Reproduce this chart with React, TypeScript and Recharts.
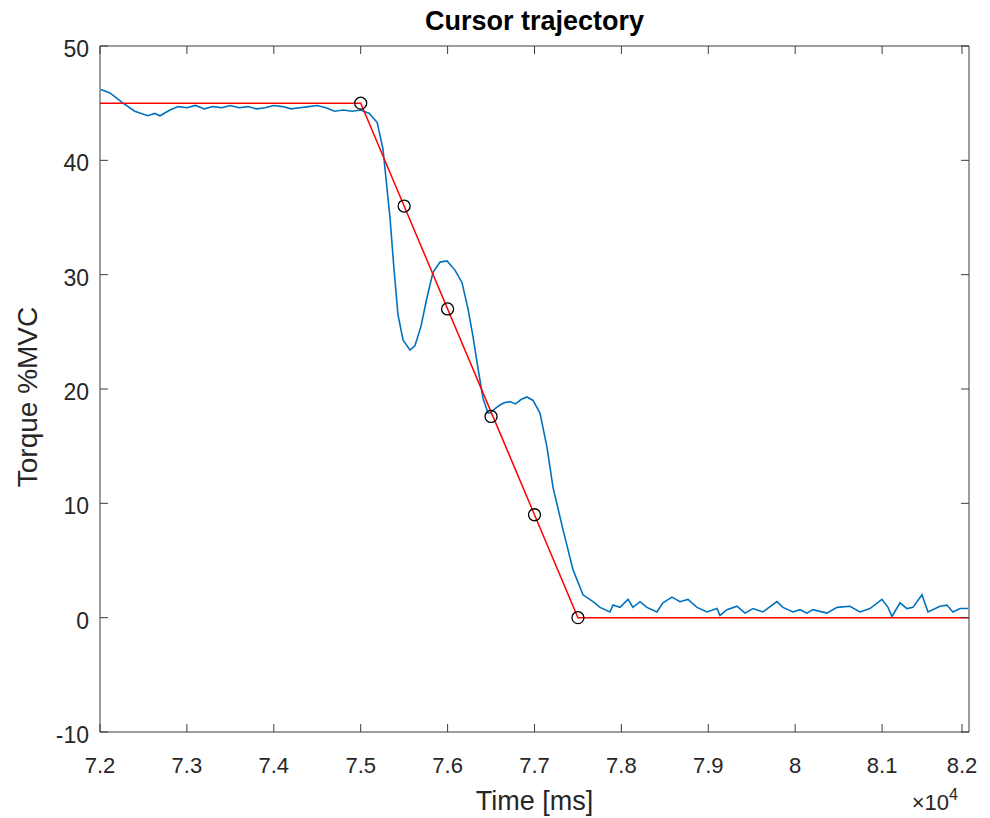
import React from 'react'
import { ComposedChart, Line, Scatter, XAxis, YAxis, ReferenceLine } from 'recharts'

// measured torque (blue), sampled off the figure
const blueTime = [
  72010, 72115, 72265, 72400, 72550, 72630, 72690, 72805, 72900, 73000,
  73100, 73200, 73300, 73400, 73500, 73600, 73700, 73800, 73900, 74000,
  74100, 74200, 74300, 74400, 74500, 74600, 74700, 74800, 74900, 75000,
  75100, 75190, 75256, 75290, 75337, 75383, 75429, 75487, 75568, 75625,
  75694, 75763, 75832, 75913, 75993, 76085, 76166, 76235, 76292, 76350,
  76407, 76465, 76488, 76550, 76603, 76650, 76718, 76780, 76850, 76914,
  76983, 77063, 77144, 77213, 77328, 77443, 77558, 77673, 77754, 77869,
  77903, 77984, 78076, 78133, 78214, 78294, 78409, 78478, 78582, 78674,
  78766, 78870, 78985, 79100, 79134, 79215, 79330, 79422, 79514, 79629,
  79790, 79859, 79974, 80055, 80135, 80204, 80365, 80481, 80630, 80745,
  80860, 80998, 81068, 81114, 81206, 81286, 81355, 81459, 81528, 81666,
  81746, 81815, 81896, 81988
]
const blueTorque = [
  46.2, 45.9, 45.0, 44.3, 43.9, 44.1, 43.9, 44.4, 44.7, 44.6,
  44.8, 44.5, 44.7, 44.6, 44.8, 44.6, 44.7, 44.5, 44.6, 44.8,
  44.7, 44.5, 44.6, 44.7, 44.8, 44.6, 44.3, 44.4, 44.3, 44.4,
  44.1, 43.3, 41.0, 38.5, 35.0, 30.5, 26.5, 24.3, 23.4, 23.8,
  25.5, 28.0, 30.2, 31.1, 31.2, 30.4, 29.3, 27.0, 24.6, 21.8,
  19.2, 17.9, 17.9, 18.3, 18.6, 18.8, 18.9, 18.7, 19.1, 19.3,
  19.0, 17.9, 14.9, 11.4, 7.7, 4.2, 2.0, 1.4, 0.9, 0.5,
  1.1, 0.9, 1.6, 0.9, 1.4, 0.9, 0.5, 1.3, 1.8, 1.4,
  1.6, 0.9, 0.5, 0.8, 0.2, 0.7, 1.0, 0.4, 0.8, 0.5,
  1.4, 0.9, 0.5, 0.7, 0.4, 0.7, 0.4, 0.9, 1.0, 0.5,
  0.8, 1.6, 0.9, 0.1, 1.3, 0.8, 0.9, 2.0, 0.5, 1.0,
  1.1, 0.5, 0.8, 0.8
]

// target trajectory (red)
const refTime = [72000, 75000, 77500, 82000]
const refTorque = [45, 45, 0, 0]

// circle markers on the ramp
const markTime = [75000, 75500, 76000, 76500, 77000, 77500]
const markTorque = [45, 36, 27, 17.6, 9, 0]

const xTicks = [72000, 73000, 74000, 75000, 76000, 77000, 78000, 79000, 80000, 81000, 82000]
const yTicks = [-10, 0, 10, 20, 30, 40, 50]

const blueData = blueTime.map((t, i) => ({ t, v: blueTorque[i] }))
const refData = refTime.map((t, i) => ({ t, v: refTorque[i] }))
const markData = markTime.map((t, i) => ({ t, v: markTorque[i] }))

const W = 974
const H = 810
const LEFT = 92
const TOP = 38
const RIGHT = 961
const BOTTOM = 724
const FONT = '"Liberation Sans", Arial, Helvetica, sans-serif'
const TXT = '#262626'
const AX = '#3c3c3c'
const TICK = 8

const fmtX = (v: number) => parseFloat((v / 1e4).toFixed(1)).toString()

const XTick = (props: any) => {
  const { x, payload } = props
  return (
    <g>
      <line x1={x} x2={x} y1={BOTTOM} y2={BOTTOM - TICK} stroke={AX} />
      <line x1={x} x2={x} y1={TOP} y2={TOP + TICK} stroke={AX} />
      <text x={x} y={BOTTOM + 41} textAnchor="middle" fontSize={22} fontFamily={FONT} fill={TXT}>
        {fmtX(payload.value)}
      </text>
    </g>
  )
}

const YTick = (props: any) => {
  const { y, payload } = props
  return (
    <g>
      <line x1={LEFT} x2={LEFT + TICK} y1={y} y2={y} stroke={AX} />
      <line x1={RIGHT - TICK} x2={RIGHT} y1={y} y2={y} stroke={AX} />
      <text x={LEFT - 11} y={y + 11} textAnchor="end" fontSize={23} fontFamily={FONT} fill={TXT}>
        {payload.value}
      </text>
    </g>
  )
}

const Ring = (props: any) => (
  <circle cx={props.cx} cy={props.cy} r={6} fill="none" stroke="#000" strokeWidth={1.3} />
)

export default function App() {
  return (
    <div style={{ position: 'relative', width: W, height: H }}>
      <ComposedChart width={W} height={H} margin={{ top: TOP, right: W - RIGHT, bottom: 0, left: 0 }}>
        <XAxis
          dataKey="t"
          type="number"
          domain={[72000, 82000]}
          ticks={xTicks}
          allowDataOverflow
          height={H - BOTTOM}
          tickSize={0}
          tickMargin={0}
          tick={XTick}
          stroke={AX}
          label={{
            content: () => (
              <text x={(LEFT + RIGHT) / 2} y={802} textAnchor="middle" fontSize={27} fontFamily={FONT} fill={TXT}>
                Time [ms]
              </text>
            )
          }}
        />
        <YAxis
          dataKey="v"
          type="number"
          domain={[-10, 50]}
          ticks={yTicks}
          allowDataOverflow
          width={LEFT}
          tickSize={0}
          tickMargin={0}
          tick={YTick}
          stroke={AX}
          label={{
            content: () => (
              <text
                transform={`translate(29, ${(TOP + BOTTOM) / 2 + 8}) rotate(-90)`}
                textAnchor="middle"
                fontSize={28}
                fontFamily={FONT}
                fill={TXT}
              >
                Torque %MVC
              </text>
            )
          }}
        />
        <ReferenceLine y={50} stroke={AX} />
        <ReferenceLine x={82000} stroke={AX} />
        <Line data={blueData} dataKey="v" type="linear" stroke="#0072BD" strokeWidth={1.6} dot={false} isAnimationActive={false} />
        <Line data={refData} dataKey="v" type="linear" stroke="#ff0000" strokeWidth={1.5} dot={false} isAnimationActive={false} />
        <Scatter data={markData} dataKey="v" shape={Ring} isAnimationActive={false} />
      </ComposedChart>
      <svg width={W} height={H + 8} style={{ position: 'absolute', left: 0, top: -8, pointerEvents: 'none' }}>
        <text x={(LEFT + RIGHT) / 2} y={30} textAnchor="middle" fontSize={27} fontWeight="bold" fontFamily={FONT} fill="#000">
          Cursor trajectory
        </text>
        <text x={950} y={810} textAnchor="end" fontSize={22} fontFamily={FONT} fill={TXT}>
          ×10<tspan dy={-10} fontSize={16}>4</tspan>
        </text>
      </svg>
    </div>
  )
}
